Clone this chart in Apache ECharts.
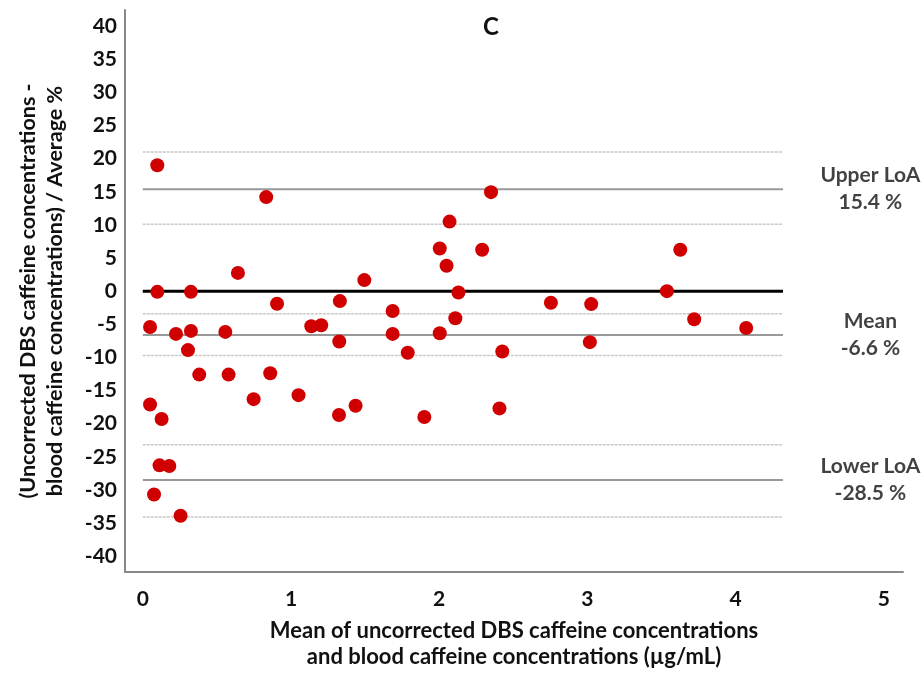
<!DOCTYPE html>
<html>
<head>
<meta charset="utf-8">
<script src="https://cdn.jsdelivr.net/npm/echarts@6/dist/echarts.min.js"></script>
<style>html,body{margin:0;padding:0;background:#fff}#c{width:923px;height:675px}</style>
</head>
<body>
<div id="c"></div>
<script>
// Bland-Altman points: x = mean concentration (µg/mL), y = % difference
var xVals = [0.098,0.098,0.325,0.642,0.833,0.906,1.33,1.495,1.686,2.004,
             2.05,2.07,2.13,0.049,0.224,0.325,0.305,0.381,0.557,0.579,
             0.860,0.748,1.051,1.137,1.204,1.326,1.324,1.436,1.686,1.788,
             1.90,2.004,2.109,0.049,0.127,0.113,0.179,0.076,0.255,2.35,
             2.29,2.754,3.026,3.537,3.627,3.721,4.072,3.017,2.426,2.407];
var yVals = [19.0,-0.1,-0.1,2.76,14.2,-1.9,-1.5,1.67,-3.0,6.45,
             3.84,10.5,-0.2,-5.4,-6.45,-6.0,-8.9,-12.6,-6.15,-12.6,
             -12.4,-16.3,-15.7,-5.3,-5.15,-7.6,-18.7,-17.3,-6.45,-9.3,
             -19.0,-6.35,-4.1,-17.1,-19.3,-26.3,-26.4,-30.7,-33.9,14.95,
             6.25,-1.75,-1.95,0.0,6.25,-4.25,-5.55,-7.7,-9.1,-17.7];
var meanBias = -6.6, upperLoA = 15.4, lowerLoA = -28.5;
var ciLines = [21.0, 10.1, -3.4, -9.7, -23.2, -34.1];
var lineStartX = 0, lineEndX = 4.32;
var yTicks = [-40,-35,-30,-25,-20,-15,-10,-5,0,5,10,15,20,25,30,35,40];
var xTicks = [0,1,2,3,4,5];
var sideLabels = [
  {name:'Upper LoA', value: upperLoA},
  {name:'Mean', value: meanBias},
  {name:'Lower LoA', value: lowerLoA}
];
var labelX = 4.91;

var points = xVals.map(function(x,i){return [x, yVals[i]];});
function hline(v){return [[lineStartX, v],[lineEndX, v]];}

var FONT = 'Lato';
var series = [];
ciLines.forEach(function(v){
  series.push({type:'line', data:hline(v), symbol:'none', silent:true, z:1,
    lineStyle:{color:'#c8c8c8', width:1.5, type:[3,1]}});
});
[upperLoA, meanBias, lowerLoA].forEach(function(v){
  series.push({type:'line', data:hline(v), symbol:'none', silent:true, z:2,
    lineStyle:{color:'#999999', width:2}});
});
series.push({type:'line', data:hline(0), symbol:'none', silent:true, z:3,
  lineStyle:{color:'#000000', width:3}});
series.push({type:'scatter', data:points, symbolSize:14, z:5,
  itemStyle:{color:'#d00000', opacity:1}});
series.push({type:'scatter', symbolSize:0, silent:true,
  data: sideLabels.map(function(s){return {value:[labelX, s.value], name:s.name};}),
  label:{show:true, position:'inside', color:'#111', fontFamily:FONT, fontWeight:'bold',
    fontSize:21, lineHeight:27, align:'center', verticalAlign:'middle',
    formatter:function(p){return p.name + '\n' + p.value[1].toFixed(1) + ' %';}}});

var chart = echarts.init(document.getElementById('c'), null, {renderer:'canvas'});
chart.setOption({
  backgroundColor:'#ffffff',
  animation:false,
  grid:{left:125, right:20, top:10, bottom:97, containLabel:false},
  graphic:[{type:'text', left:483, top:15, style:{text:'C', fontFamily:FONT, fontWeight:'bold', fontSize:24, fill:'#111'}}],
  xAxis:{type:'value', min:-0.12, max:5.13,
    axisLine:{show:true, onZero:false, lineStyle:{color:'#888', width:2}},
    axisTick:{show:false}, splitLine:{show:false},
    axisLabel:{customValues:xTicks, margin:17, color:'#111', fontFamily:FONT, fontWeight:'bold', fontSize:21},
    name:'Mean of uncorrected DBS caffeine concentrations\nand blood caffeine concentrations (µg/mL)',
    nameLocation:'middle', nameGap:46,
    nameTextStyle:{color:'#111', fontFamily:FONT, fontWeight:'bold', fontSize:22, lineHeight:26}},
  yAxis:{type:'value', min:-42.4, max:42.45,
    axisLine:{show:true, onZero:false, lineStyle:{color:'#888', width:2}},
    axisTick:{show:false}, splitLine:{show:false},
    axisLabel:{customValues:yTicks, margin:8, color:'#111', fontFamily:FONT, fontWeight:'bold', fontSize:21},
    name:'(Uncorrected DBS caffeine concentrations -\nblood caffeine concentrations) / Average %',
    nameLocation:'middle', nameRotate:90, nameGap:56,
    nameTextStyle:{color:'#111', fontFamily:FONT, fontWeight:'bold', fontSize:21.5, lineHeight:27}},
  series:series
});
</script>
</body>
</html>
